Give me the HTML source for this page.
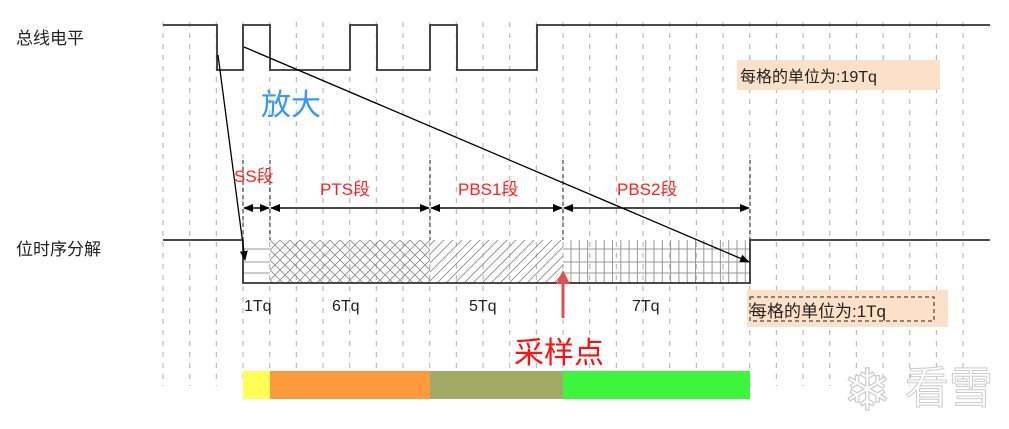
<!DOCTYPE html>
<html><head><meta charset="utf-8"><style>
html,body{margin:0;padding:0;background:#fff;width:1009px;height:429px;overflow:hidden}
svg{display:block}
text{font-family:"Liberation Sans","Noto Sans CJK SC",sans-serif}
</style></head><body>
<svg width="1009" height="429" viewBox="0 0 1009 429" xmlns="http://www.w3.org/2000/svg">
<defs>
<pattern id="cross" width="10" height="10" patternUnits="userSpaceOnUse">
<path d="M0,0L10,10M10,0L0,10" stroke="#888" stroke-width="0.8"/>
</pattern>
<pattern id="diag" width="9" height="9" patternUnits="userSpaceOnUse">
<path d="M0,9L9,0M-2,2L2,-2M7,11L11,7" stroke="#888" stroke-width="0.8"/>
</pattern>
<marker id="ah" markerWidth="10" markerHeight="10" refX="9" refY="5" orient="auto" markerUnits="userSpaceOnUse">
<path d="M0,1L10,5L0,9z" fill="#000"/>
</marker>
</defs>
<g stroke="#bbb" stroke-width="1.2" stroke-dasharray="5,6" id="grid"></g>
<script>
var g=document.getElementById('grid');
for(var k=0;k<=30;k++){var x=163+26.67*k;var l=document.createElementNS('http://www.w3.org/2000/svg','line');l.setAttribute('x1',x);l.setAttribute('x2',x);l.setAttribute('y1',22);l.setAttribute('y2',386);g.appendChild(l);}
</script>
<polyline fill="none" stroke="#333" stroke-width="1.8" points="163,25 217,25 217,70 243,70 243,25 270,25 270,70 350,70 350,25 377,25 377,70 430,70 430,25 457,25 457,70 537,70 537,25 563,25 563,25 990,25"/>
<rect x="270" y="240" width="160" height="43" fill="url(#cross)"/>
<rect x="430" y="240" width="133" height="43" fill="url(#diag)"/>
<g stroke="#999" stroke-width="1">
<line x1="243" y1="249" x2="270" y2="249"/><line x1="243" y1="262" x2="270" y2="262"/><line x1="243" y1="273" x2="270" y2="273"/>
<line x1="563" y1="249" x2="750" y2="249"/><line x1="563" y1="262" x2="750" y2="262"/><line x1="563" y1="273" x2="750" y2="273"/>
</g>
<g stroke="#999" stroke-width="1" id="vg"></g>
<script>
var v=document.getElementById('vg');
for(var x=571;x<750;x+=8.3){var l=document.createElementNS('http://www.w3.org/2000/svg','line');l.setAttribute('x1',x);l.setAttribute('x2',x);l.setAttribute('y1',240);l.setAttribute('y2',283);v.appendChild(l);}
</script>
<polyline fill="none" stroke="#333" stroke-width="1.8" points="163,240 243,240 243,283 750,283 750,240 990,240"/>
<g stroke="#222" stroke-width="1" stroke-dasharray="4,3">
<line x1="243" y1="160" x2="243" y2="240"/><line x1="270" y1="160" x2="270" y2="240"/>
<line x1="430" y1="160" x2="430" y2="240"/><line x1="563" y1="160" x2="563" y2="240"/>
<line x1="750" y1="160" x2="750" y2="240"/>
</g>
<g stroke="#000" stroke-width="1.3">
<line x1="244" y1="208" x2="269" y2="208" marker-end="url(#ah)"/>
<line x1="271" y1="208" x2="429" y2="208" marker-end="url(#ah)"/>
<line x1="431" y1="208" x2="562" y2="208" marker-end="url(#ah)"/>
<line x1="564" y1="208" x2="749" y2="208" marker-end="url(#ah)"/>
<line x1="269" y1="208" x2="244" y2="208" marker-end="url(#ah)"/>
<line x1="429" y1="208" x2="271" y2="208" marker-end="url(#ah)"/>
<line x1="562" y1="208" x2="431" y2="208" marker-end="url(#ah)"/>
<line x1="749" y1="208" x2="564" y2="208" marker-end="url(#ah)"/>
</g>
<line x1="218" y1="55" x2="245" y2="260" stroke="#000" stroke-width="1.3" marker-end="url(#ah)"/>
<line x1="244" y1="47" x2="749" y2="262" stroke="#000" stroke-width="1.3" marker-end="url(#ah)"/>
<line x1="563" y1="318" x2="563" y2="282" stroke="#e05050" stroke-width="3"/>
<path d="M556,284L563,270L570,284z" fill="#e05050"/>
<rect x="243" y="371" width="27" height="28" fill="#ffff55"/>
<rect x="270" y="371" width="160" height="28" fill="#ff9a3c"/>
<rect x="430" y="371" width="133" height="28" fill="#a3aa66"/>
<rect x="563" y="371" width="187" height="28" fill="#3df53d"/>
<rect x="737" y="60" width="203" height="30" fill="#fde0c8"/>
<text x="740" y="82" font-size="16" fill="#222">每格的单位为:19Tq</text>
<rect x="747" y="290" width="201" height="37" fill="#fde0c8"/>
<rect x="750" y="297" width="184" height="24" fill="none" stroke="#222" stroke-dasharray="4,3"/>
<text x="750" y="317" font-size="17" fill="#222">每格的单位为:1Tq</text>
<text x="16" y="44" font-size="17" fill="#222">总线电平</text>
<text x="16" y="255" font-size="17" fill="#222">位时序分解</text>
<text x="261" y="115" font-size="30" fill="#3399ff">放大</text>
<g fill="#ff2020" font-size="17">
<text x="234" y="182">SS段</text>
<text x="320" y="195">PTS段</text>
<text x="458" y="195">PBS1段</text>
<text x="617" y="195">PBS2段</text>
</g>
<g fill="#222" font-size="16">
<text x="244" y="311">1Tq</text>
<text x="332" y="311">6Tq</text>
<text x="469" y="311">5Tq</text>
<text x="632" y="311">7Tq</text>
</g>
<text x="514" y="363" font-size="30" fill="#ff1010">采样点</text>
<text x="843" y="410" font-size="58" fill="#fff" stroke="#ccc" stroke-width="1.2">❄</text>
<text x="905" y="403" font-size="44" fill="#fff" stroke="#ccc" stroke-width="1">看雪</text>
</svg>
</body></html>
